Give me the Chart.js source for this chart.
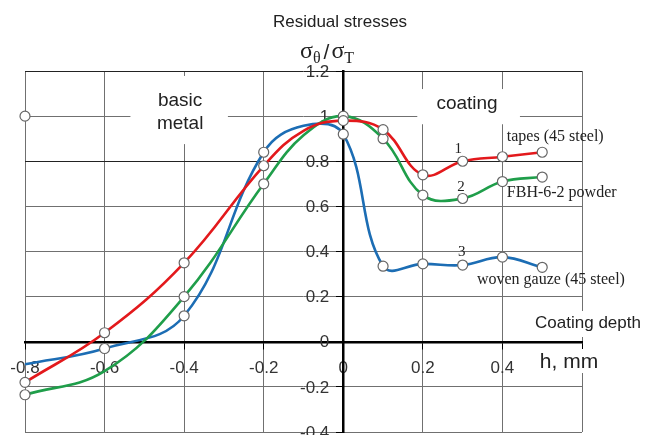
<!DOCTYPE html>
<html>
<head>
<meta charset="utf-8">
<script src="https://cdn.jsdelivr.net/npm/chart.js@4"></script>
<style>
html, body { margin:0; padding:0; background:#fff; overflow:hidden; }
#wrap { position:absolute; left:0; top:0; width:655px; height:445px; }
</style>
</head>
<body>
<div id="wrap"><canvas id="grafico" width="655" height="445" style="width:655px;height:445px"></canvas></div>
<script>
// depth h, mm (the -0.1 point has no marker in the original)
const depth = [-0.8, -0.6, -0.4, -0.2, -0.1, 0, 0.1, 0.2, 0.3, 0.4, 0.5];
// sigma_theta / sigma_T
const tapes  = [-0.18, 0.04, 0.35, 0.78, 0.935, 0.98, 0.94, 0.74, 0.80, 0.82, 0.84];
const powder = [-0.235, -0.13, 0.20, 0.70, 0.915, 1.0, 0.90, 0.65, 0.635, 0.71, 0.73];
const gauze  = [-0.10, -0.03, 0.115, 0.84, 0.957, 0.92, 0.335, 0.345, 0.34, 0.375, 0.33];
// which points carry a marker
const tapesMarks  = [1, 1, 1, 1, 0, 1, 1, 1, 1, 1, 1];
const powderMarks = [1, 0, 1, 1, 0, 1, 1, 1, 1, 1, 1];
const gauzeMarks  = [0, 1, 1, 1, 0, 1, 1, 1, 1, 1, 1];
// lone marker at the left edge
const lonePoint = [{ x: -0.8, y: 1 }];

const xTickLabels = ['-0.8', '-0.6', '-0.4', '-0.2', '0', '0.2', '0.4', ''];
const yTickLabels = ['-0.4', '-0.2', '0', '0.2', '0.4', '0.6', '0.8', '1', '1.2'];

const SANS = "'Liberation Sans', Arial, sans-serif";
const SERIF = "'Liberation Serif', 'Times New Roman', serif";

function puntos(ys) {
    return depth.map((x, i) => ({ x: x, y: ys[i] }));
}
function radios(marks) {
    return marks.map(m => m ? 5 : 0);
}

function serie(label, ys, marks, color) {
    return {
        label: label,
        data: puntos(ys),
        borderColor: color,
        borderWidth: 2.6,
        tension: 0.4,
        clip: false,
        pointRadius: radios(marks),
        pointHoverRadius: radios(marks),
        pointBackgroundColor: '#fff',
        pointBorderColor: '#666',
        pointBorderWidth: 1.2
    };
}

const anotaciones = {
    id: 'anotaciones',
    beforeDatasetsDraw(chart) {
        const ctx = chart.ctx;
        const sx = chart.scales.x, sy = chart.scales.y;
        const px = v => sx.getPixelForValue(v);
        const py = v => sy.getPixelForValue(v);
        ctx.save();
        // white boxes that cut the grid
        ctx.fillStyle = '#fff';
        ctx.fillRect(px(-0.535), py(1.178), px(-0.29) - px(-0.535), py(0.876) - py(1.178));
        ctx.fillRect(px(0.186), py(1.12), px(0.444) - px(0.186), py(0.964) - py(1.12));
        ctx.fillRect(532, 311, 113, 26);
        ctx.fillRect(538, 349, 64, 24);

        // y tick labels, left of the y axis
        ctx.fillStyle = '#333';
        ctx.font = '17px ' + SANS;
        ctx.textAlign = 'right';
        ctx.textBaseline = 'middle';
        const x0 = px(0) - 14;
        sy.ticks.forEach((t, i) => {
            ctx.fillText(yTickLabels[i], x0, py(t.value) + 1);
        });

        ctx.fillStyle = '#222';
        ctx.textAlign = 'center';
        ctx.font = '19px ' + SANS;
        ctx.fillText('basic', px(-0.41), py(1.068));
        ctx.fillText('metal', px(-0.41), py(0.964));
        ctx.fillText('coating', px(0.311), py(1.053));

        ctx.font = '17px ' + SANS;
        ctx.fillText('Coating depth', 588, 323);
        ctx.font = '21px ' + SANS;
        ctx.fillText('h, mm', 569, 362);

        ctx.textAlign = 'left';
        ctx.font = '16px ' + SERIF;
        ctx.fillText('tapes (45 steel)', px(0.411), py(0.91));
        ctx.fillText('FBH-6-2 powder', px(0.411), py(0.662));
        ctx.fillText('woven gauze (45 steel)', px(0.336), py(0.276));
        ctx.textAlign = 'center';
        ctx.font = '15px ' + SERIF;
        ctx.fillText('1', px(0.289), py(0.853));
        ctx.fillText('2', px(0.296), py(0.684));
        ctx.fillText('3', px(0.298), py(0.396));
        ctx.restore();
    },
    afterDraw(chart) {
        const ctx = chart.ctx;
        ctx.save();
        ctx.fillStyle = '#222';
        ctx.textBaseline = 'middle';
        ctx.textAlign = 'center';
        ctx.font = '17px ' + SANS;
        ctx.fillText('Residual stresses', 340, 22);

        // sigma_theta / sigma_T
        ctx.textAlign = 'left';
        ctx.textBaseline = 'alphabetic';
        let x = 300;
        const trozo = (t, font, y) => {
            ctx.font = font;
            ctx.fillText(t, x, y);
            x += ctx.measureText(t).width;
        };
        trozo('\u03c3', '24px ' + SERIF, 58);
        trozo('\u03b8', '16px ' + SERIF, 63);
        x += 3;
        trozo('/', '21px ' + SANS, 59);
        x += 2;
        trozo('\u03c3', '24px ' + SERIF, 58);
        trozo('T', '16px ' + SERIF, 63);
        ctx.restore();
    }
};

const ctx = document.getElementById('grafico').getContext('2d');
window.myChart = new Chart(ctx, {
    type: 'line',
    data: {
        datasets: [
            serie('tapes (45 steel)', tapes, tapesMarks, '#e3191c'),
            serie('FBH-6-2 powder', powder, powderMarks, '#1f9e4a'),
            serie('woven gauze (45 steel)', gauze, gauzeMarks, '#1c6db4'),
            {
                label: 'point',
                data: lonePoint,
                showLine: false,
                clip: false,
                pointRadius: 5,
                pointBackgroundColor: '#fff',
                pointBorderColor: '#666',
                pointBorderWidth: 1.2
            }
        ]
    },
    options: {
        responsive: false,
        animation: false,
        layout: { padding: { left: 25, right: 73, top: 71, bottom: 13 } },
        plugins: {
            legend: { display: false },
            title: { display: false },
            tooltip: { enabled: false }
        },
        scales: {
            x: {
                type: 'linear',
                position: { y: 0 },
                min: -0.8,
                max: 0.6,
                ticks: {
                    stepSize: 0.2,
                    padding: 10,
                    color: '#333',
                    font: { family: SANS, size: 17 },
                    maxRotation: 0,
                    callback: (v, i) => xTickLabels[i]
                },
                grid: { color: '#707070', lineWidth: 1, tickLength: 6, tickColor: '#000' },
                border: { display: true, color: '#000', width: 2.5 }
            },
            y: {
                type: 'linear',
                position: { x: 0 },
                min: -0.4,
                max: 1.2,
                ticks: { stepSize: 0.2, display: false },
                grid: {
                    color: c => (c.tick && (Math.abs(c.tick.value - 0.8) < 1e-6 || Math.abs(c.tick.value - 1.2) < 1e-6)) ? '#222' : '#707070',
                    lineWidth: 1,
                    tickLength: 6,
                    tickColor: '#000'
                },
                border: { display: true, color: '#000', width: 2.5 }
            }
        }
    },
    plugins: [anotaciones]
});
</script>
</body>
</html>
